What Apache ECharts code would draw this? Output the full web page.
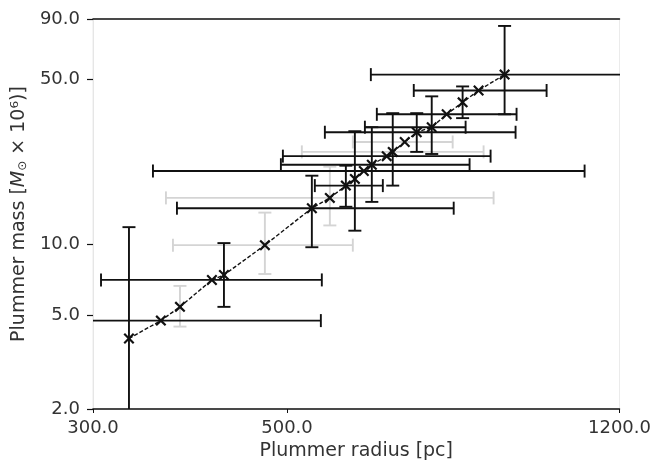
<!DOCTYPE html>
<html><head><meta charset="utf-8">
<script src="https://cdn.jsdelivr.net/npm/echarts@6/dist/echarts.min.js"></script>
<style>html,body{margin:0;padding:0;background:#fff}#c{width:654px;height:466px}</style>
</head><body><div id="c"></div>
<script>
const radius     = [329.8, 358.7, 377.2, 410.3, 423.5, 471.7, 533.8, 559.7, 583.8, 597.8, 612.1, 625.1, 650.1, 660.5, 681.7, 703.6, 731.9, 761.3, 793.9, 828.0, 886.7];
const mass       = [3.98, 4.74, 5.42, 7.05, 7.40, 9.9, 14.2, 15.7, 17.7, 18.9, 20.4, 21.7, 23.6, 24.6, 27.1, 29.8, 31.3, 35.5, 39.9, 44.8, 52.3];
const radiusLow  = [null, 290, null, 306.4, null, 370.3, 374.2, 363.5, 538.0, null, 351.3, 492.0, 494.6, 519.9, 594.6, 552.4, 613.8, 633.4, null, 698.1, 623.5];
const radiusHigh = [null, 546.6, null, 548.0, null, 594.6, 775.5, 861.4, 643.5, null, 1094.6, 808.6, 854.6, 839.0, 773.4, 912.7, 800.2, 915.1, null, 990.4, 1500];
const massLow    = [1.5, null, 4.47, null, 5.42, 7.47, 9.7, 12.0, 14.4, 11.4, null, 15.1, null, 17.7, null, 24.6, 24.1, null, 34.2, null, 35.5];
const massHigh   = [11.8, null, 6.65, null, 10.1, 13.6, 19.5, 21.3, 21.5, 30.1, null, 31.3, null, 35.9, null, 35.9, 42.3, null, 46.6, null, 84.1];
const radiusErrShade = ['', 'k', '', 'k', '', 'g', 'k', 'g', 'k', '', 'k', 'k', 'k', 'g', 'g', 'k', 'k', 'k', '', 'k', 'k'];
const massErrShade   = ['k', '', 'g', '', 'k', 'g', 'k', 'g', 'k', 'k', '', 'k', '', 'k', '', 'k', 'k', '', 'k', '', 'k'];
const xTicks = [300, 500, 1200];
const yTicks = [2, 5, 10, 50, 90];

const FONT = 'DejaVu Sans';
const chart = echarts.init(document.getElementById('c'));
const pts = radius.map((r, i) => [r, mass[i]]);

function errRenderer(shade) {
  return function (params, api) {
    const i = params.dataIndex;
    const color = shade === 'g' ? '#d4d4d4' : '#111';
    const style = { stroke: color, lineWidth: 1.9, fill: null };
    const cap = 6.5;
    const ch = [];
    const ln = (x1, y1, x2, y2) => ch.push({ type: 'line', shape: { x1, y1, x2, y2 }, style });
    if (radiusErrShade[i] === shade && radiusLow[i] != null) {
      const a = api.coord([radiusLow[i], mass[i]]);
      const b = api.coord([radiusHigh[i], mass[i]]);
      ln(a[0], a[1], b[0], b[1]);
      ln(a[0], a[1] - cap, a[0], a[1] + cap);
      ln(b[0], b[1] - cap, b[0], b[1] + cap);
    }
    if (massErrShade[i] === shade && massLow[i] != null) {
      const a = api.coord([radius[i], massLow[i]]);
      const b = api.coord([radius[i], massHigh[i]]);
      ln(a[0], a[1], b[0], b[1]);
      ln(a[0] - cap, a[1], a[0] + cap, a[1]);
      ln(b[0] - cap, b[1], b[0] + cap, b[1]);
    }
    return { type: 'group', children: ch };
  };
}

const fmt = v => Number(v).toFixed(1);
const labelStyle = { fontSize: 18, color: '#333', fontFamily: FONT };

chart.setOption({
  animation: false,
  backgroundColor: '#fff',
  grid: { left: 93, right: 34, top: 19, bottom: 54, show: true, borderColor: '#ebebeb', borderWidth: 1 },
  xAxis: [{
    type: 'log', logBase: 10, min: 300, max: 1200, position: 'bottom',
    axisLine: { show: true, lineStyle: { color: '#111', width: 1.5 } },
    axisTick: { show: true, length: 4, customValues: xTicks, lineStyle: { color: '#111' } },
    axisLabel: Object.assign({ customValues: xTicks, formatter: fmt, margin: 10 }, labelStyle),
    splitLine: { show: false }, minorTick: { show: false },
    name: 'Plummer radius [pc]', nameLocation: 'middle', nameGap: 33,
    nameTextStyle: { fontSize: 19, color: '#333', fontFamily: FONT }
  }, {
    type: 'log', logBase: 10, min: 300, max: 1200, position: 'top',
    axisLine: { show: true, lineStyle: { color: '#111', width: 1.5 } },
    axisTick: { show: false }, axisLabel: { show: false }, splitLine: { show: false }
  }],
  yAxis: {
    type: 'log', logBase: 10, min: 2, max: 90,
    axisLine: { show: true, lineStyle: { color: '#e6e6e6', width: 1 } },
    axisTick: { show: true, length: 6, customValues: yTicks, lineStyle: { color: '#111', width: 1.2 } },
    axisLabel: Object.assign({ customValues: yTicks, formatter: fmt, margin: 13 }, labelStyle),
    splitLine: { show: false },
    name: 'Plummer mass [{i|M}{s|⊙} × 10⁶)]', nameLocation: 'middle', nameGap: 63,
    nameTextStyle: {
      fontSize: 19, color: '#333', fontFamily: FONT,
      rich: {
        i: { fontSize: 19, fontStyle: 'italic', color: '#333', fontFamily: FONT },
        s: { fontSize: 12, color: '#333', fontFamily: FONT, verticalAlign: 'bottom' }
      }
    }
  },
  series: [
    { type: 'custom', clip: true, data: pts, encode: { x: 0, y: 1 }, renderItem: errRenderer('g'), z: 2, silent: true },
    { type: 'custom', clip: true, data: pts, encode: { x: 0, y: 1 }, renderItem: errRenderer('k'), z: 3, silent: true },
    {
      type: 'line', data: pts, z: 5, clip: true,
      symbol: 'path://M0,1.4L1.4,0L5,3.6L8.6,0L10,1.4L6.4,5L10,8.6L8.6,10L5,6.4L1.4,10L0,8.6L3.6,5Z',
      symbolSize: 11,
      itemStyle: { color: '#111' },
      lineStyle: { color: '#111', width: 1.4, type: [4, 2] }
    }
  ]
});
</script>
</body></html>
